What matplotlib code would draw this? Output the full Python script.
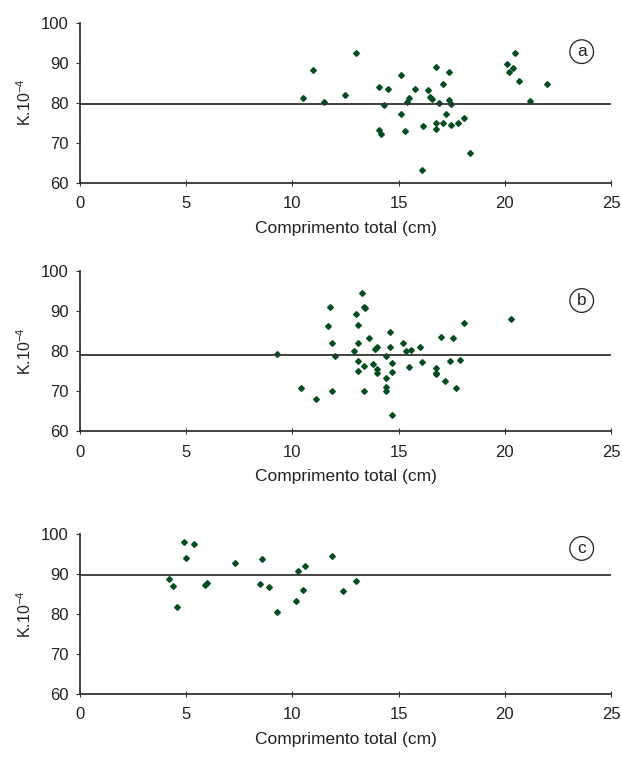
import numpy as np
import matplotlib.pyplot as plt

plt.rcParams['font.family'] = ['Liberation Sans', 'DejaVu Sans']
plt.rcParams['mathtext.fontset'] = 'custom'
plt.rcParams['mathtext.rm'] = 'Liberation Sans'
plt.rcParams['mathtext.it'] = 'Liberation Sans'

# Panel a: total length (cm) vs condition factor K.10^-4
len_a = [10.50, 10.99, 11.49, 12.49, 12.99, 14.07, 14.09, 14.18, 14.29, 14.48,
         15.09, 15.09, 15.28, 15.39, 15.50, 15.78, 16.09, 16.17, 16.39, 16.50,
         16.58, 16.78, 16.78, 16.78, 16.89, 17.08, 17.08, 17.24, 17.36, 17.36,
         17.49, 17.49, 17.79, 18.09, 18.38, 20.09, 20.18, 20.39, 20.50, 20.69,
         21.19, 21.99]
k_a = [81.2, 88.2, 80.2, 81.9, 92.3, 83.9, 73.2, 72.2, 79.3, 83.3,
       87.0, 77.1, 72.9, 80.1, 81.1, 83.3, 63.2, 74.2, 83.2, 81.4,
       80.8, 88.8, 74.8, 73.3, 79.8, 84.6, 74.8, 77.2, 87.6, 80.6,
       79.6, 74.4, 74.8, 76.1, 67.3, 89.7, 87.6, 88.7, 92.3, 85.4,
       80.3, 84.6]
mean_a = 79.7

# Panel b
len_b = [9.28, 10.39, 11.10, 11.79, 11.69, 11.88, 11.99, 11.88, 12.99, 13.09,
         13.29, 13.38, 13.40, 13.09, 12.90, 13.09, 13.09, 13.38, 13.38, 13.59,
         13.79, 13.88, 13.98, 13.98, 13.98, 14.39, 14.39, 14.39, 14.39, 14.59,
         14.59, 14.68, 14.68, 14.68, 15.19, 15.37, 15.59, 15.48, 15.99, 16.08,
         16.78, 16.78, 16.78, 16.99, 17.19, 17.40, 17.58, 17.69, 17.88, 18.09,
         20.28]
k_b = [79.3, 70.9, 68.2, 91.1, 86.4, 82.0, 78.8, 70.0, 89.4, 86.5,
       94.7, 91.2, 90.9, 82.0, 80.0, 77.6, 75.0, 76.3, 70.0, 83.4,
       76.8, 80.7, 81.1, 75.7, 74.5, 78.8, 73.4, 71.1, 70.1, 84.9,
       81.2, 77.1, 74.9, 64.1, 82.0, 80.1, 80.4, 76.2, 81.2, 77.4,
       75.8, 74.7, 74.3, 83.6, 72.6, 77.5, 83.4, 70.8, 77.9, 87.1,
       88.1]
mean_b = 79.0

# Panel c
len_c = [4.18, 4.39, 4.58, 4.89, 4.98, 5.39, 5.88, 5.99, 7.29, 8.48,
         8.59, 8.89, 9.29, 10.19, 10.28, 10.48, 10.59, 11.88, 12.40, 13.01]
k_c = [88.7, 87.0, 81.7, 97.9, 93.9, 97.4, 87.2, 87.8, 92.7, 87.6,
       93.7, 86.8, 80.4, 83.2, 90.8, 85.9, 92.1, 94.4, 85.7, 88.2]
mean_c = 89.7

panels = [
    ("a", len_a, k_a, mean_a, 92.75, 0.7606),
    ("b", len_b, k_b, mean_b, 92.7, 0.4347),
    ("c", len_c, k_c, mean_c, 96.4, 0.0904),
]

fig = plt.figure(figsize=(6.22, 7.63), dpi=100)
for letter, xs, ys, m, ly, bottom in panels:
    ax = fig.add_axes([0.1286, bottom, 0.8537, 0.2097])
    ax.plot(xs, ys, linestyle='none', marker='D', ms=2.9,
            color='#004d1f', mec='#004d1f')
    ax.axhline(m, color='#333333', lw=1.3)
    ax.set_xlim(0, 25)
    ax.set_ylim(60, 100)
    ax.set_xticks([0, 5, 10, 15, 20, 25])
    ax.set_yticks([60, 70, 80, 90, 100])
    for s in ['top', 'right']:
        ax.spines[s].set_visible(False)
    for s in ['left', 'bottom']:
        ax.spines[s].set_color('#333333')
        ax.spines[s].set_linewidth(1.3)
    ax.tick_params(axis='x', direction='inout', length=5, pad=7,
                   labelsize=12, color='#333333', labelcolor='#222222')
    ax.tick_params(axis='y', direction='out', length=3, pad=5,
                   labelsize=12, color='#333333', labelcolor='#222222')
    ax.set_xlabel("Comprimento total (cm)", fontsize=12.5, labelpad=7,
                  color='#222222')
    ax.set_ylabel(r"K.10$^{-4}$", fontsize=11.5, labelpad=5, color='#222222')
    ax.text(23.62, ly, letter, fontsize=12.5, ha='center', va='center',
            color='#222222',
            bbox=dict(boxstyle='circle,pad=0.25', fc='white', ec='#222222',
                      lw=0.9))

fig.savefig("out.png", dpi=100)
